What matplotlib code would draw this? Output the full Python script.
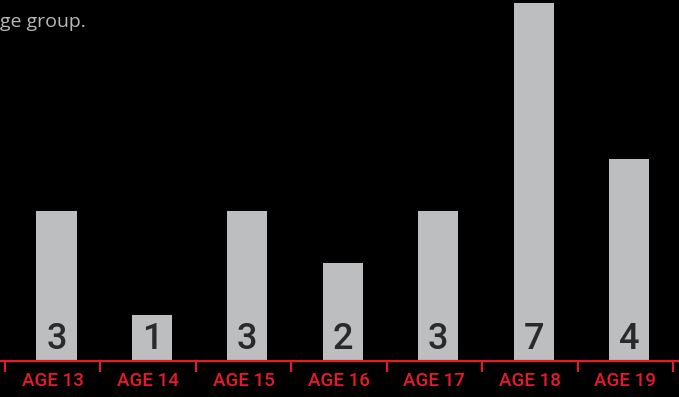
import matplotlib.pyplot as plt

# Cases per age group
ages = ['AGE 13', 'AGE 14', 'AGE 15', 'AGE 16', 'AGE 17', 'AGE 18', 'AGE 19']
counts = [3, 1, 3, 2, 3, 7, 4]

bar_color = '#bdbec0'
red = '#e8192c'

fig = plt.figure(figsize=(6.79, 3.97), dpi=100, facecolor='black')
ax = fig.add_axes([0, 0.09, 1, 0.91])
ax.set_facecolor('black')

x = list(range(len(ages)))
xb = [i + 0.04 for i in x]
ax.bar(xb, counts, width=0.42, color=bar_color, zorder=2)

# value printed at the foot of each bar
for xi, c in zip(xb, counts):
    ax.text(xi, 0.54, str(c), ha='center', va='center', color='#2a2a2a',
            fontsize=26, family='Roboto', fontweight='medium', zorder=3)

ax.set_xlim(-0.552, 6.563)
ax.set_ylim(0.115, 7.06)

# red baseline with ticks between groups
for s in ['left', 'right', 'top']:
    ax.spines[s].set_visible(False)
ax.spines['bottom'].set_color(red)
ax.spines['bottom'].set_linewidth(1.6)
ax.spines['bottom'].set_zorder(4)
ax.set_yticks([])
ax.set_xticks([i - 0.5 for i in range(len(ages) + 1)])
ax.set_xticklabels([])
ax.tick_params(axis='x', colors=red, length=8, width=1.5, direction='out')
for xi, lab in zip(x, ages):
    ax.text(xi, -0.27, lab, ha='center', va='center', color=red,
            fontsize=13.5, family='Roboto', fontweight='medium', clip_on=False)

fig.text(0.0, 0.945, 'ge group.', color='#b8b8b8', fontsize=14,
         family='Open Sans', ha='left', va='center')

fig.savefig('out.png', dpi=100, facecolor='black')
